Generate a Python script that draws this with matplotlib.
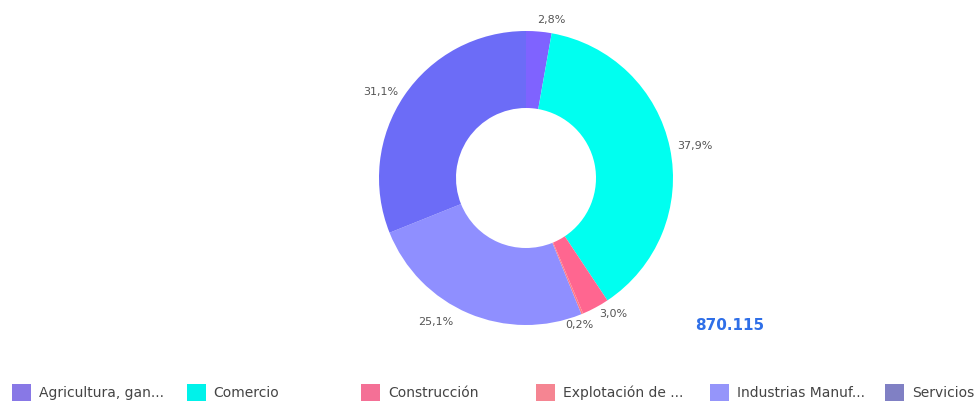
import numpy as np
import matplotlib.pyplot as plt

sectors = ["Agricultura, gan...", "Comercio", "Construcción",
           "Explotación de ...", "Industrias Manuf...", "Servicios"]
shares = [2.8, 37.9, 3.0, 0.2, 25.1, 31.1]
pct_labels = ["2,8%", "37,9%", "3,0%", "0,2%", "25,1%", "31,1%"]
total_label = "870.115"

wedge_colors = ["#7F63FF", "#00FFF0", "#FF6690", "#FF7A86", "#8F8FFF", "#6C6CF7"]
legend_colors = ["#8878E6", "#00F2EA", "#F47096", "#F58592", "#9595FA", "#8080C4"]

W, H = 976, 401
fig = plt.figure(figsize=(W / 100, H / 100), dpi=100)
ax = fig.add_axes([0, 0, 1, 1])

# work in pixel units, y measured upward
cx, cy, r = 526, H - 178, 147
wedges, _ = ax.pie(shares, colors=wedge_colors, startangle=90, counterclock=False,
                   center=(cx, cy), radius=r, frame=True,
                   wedgeprops=dict(width=r - 70, linewidth=0))
ax.set_xlim(0, W)
ax.set_ylim(0, H)
ax.set_aspect("equal")
ax.axis("off")

# percentage labels just outside each wedge, a few nudged like the original
nudge = {"0,2%": (8, -4, "right"), "25,1%": (-12, -2, "right"), "2,8%": (-2, 4, "left")}
for w, lab in zip(wedges, pct_labels):
    ang = np.deg2rad((w.theta1 + w.theta2) / 2)
    x = cx + r * 1.05 * np.cos(ang)
    y = cy + r * 1.05 * np.sin(ang)
    ha = "left" if np.cos(ang) > 0 else "right"
    if lab in nudge:
        dx, dy, ha = nudge[lab]
        x += dx
        y += dy
    ax.text(x, y, lab, ha=ha, va="center", fontsize=8, color="#555555")

ax.text(730, H - 326, total_label, ha="center", va="center", fontsize=11,
        fontweight="bold", color="#2F6FE8")

# legend row along the bottom
for i, (name, c) in enumerate(zip(sectors, legend_colors)):
    x0 = 12 + i * 174.6
    ax.add_patch(plt.Rectangle((x0, 0), 19, 17, facecolor=c, edgecolor="none"))
    ax.text(x0 + 27, H - 393, name, ha="left", va="center", fontsize=10, color="#444444")

fig.savefig("out.png", dpi=100)
